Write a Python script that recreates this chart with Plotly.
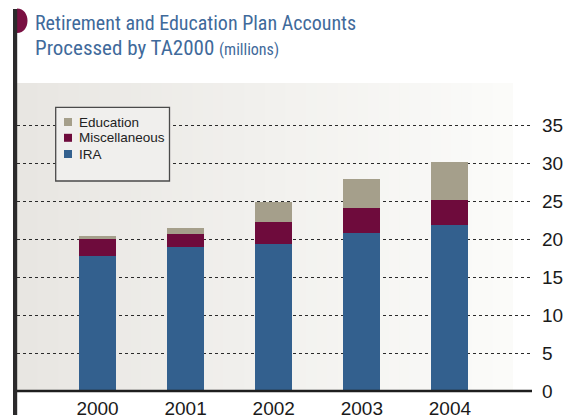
import plotly.graph_objects as go

years = ["2000", "2001", "2002", "2003", "2004"]
ira = [17.8, 18.9, 19.3, 20.8, 21.9]
misc = [2.2, 1.8, 3.0, 3.3, 3.2]
edu = [0.4, 0.7, 2.6, 3.8, 5.0]
series_names = ["IRA", "Miscellaneous", "Education"]
y_ticks = [0, 5, 10, 15, 20, 25, 30, 35]

COL_IRA = "#33608e"
COL_MISC = "#6e0b3c"
COL_EDU = "#a59f8b"
TITLE_COL = "#3f6a9b"

W, H = 570, 420
L, R, T, B = 17, 38, 83, 29
PW, PH = W - L - R, H - T - B
PX_PER_UNIT = 7.6


def px(p):
    return (p - L) / PW


def py(p):
    return (H - B - p) / PH


fig = go.Figure()
for name, vals, col in [("IRA", ira, COL_IRA), ("Miscellaneous", misc, COL_MISC), ("Education", edu, COL_EDU)]:
    fig.add_trace(go.Bar(x=list(range(len(years))), y=vals, name=name, marker_color=col,
                         marker_line_width=0, width=0.42, showlegend=False))

shapes = []
# gradient background
n = 48
x_end = 513
for i in range(n):
    t = i / (n - 1)
    r = round(232 + (251 - 232) * t)
    g = round(230 + (251 - 230) * t)
    b = round(226 + (249 - 226) * t)
    x0 = L + (x_end - L) * i / n
    x1 = L + (x_end - L) * (i + 1) / n + 0.6
    shapes.append(dict(type="rect", xref="paper", yref="paper", x0=px(x0), x1=px(min(x1, x_end)),
                       y0=0, y1=1, fillcolor=f"rgb({r},{g},{b})", line_width=0, layer="below"))

# bottom axis line
shapes.append(dict(type="line", xref="paper", yref="paper", x0=px(13), x1=px(532), y0=0, y1=0,
                   line=dict(color="#1e1e1e", width=2.6), layer="above"))
# title marker semicircle
x0m, x1m, y0m, y1m = 17, 27.5, 8.5, 33
cx = x0m + (x1m - x0m) * 4 / 3
path = (f"M {px(x0m)},{py(y0m)} C {px(cx)},{py(y0m)} {px(cx)},{py(y1m)} {px(x0m)},{py(y1m)} Z")
shapes.append(dict(type="path", xref="paper", yref="paper", path=path, fillcolor="#7a1042",
                   line_width=0, layer="above"))
# vertical dark bar
shapes.append(dict(type="rect", xref="paper", yref="paper", x0=px(13), x1=px(17.2), y0=py(415), y1=py(9),
                   fillcolor="#2b2a2b", line_width=0, layer="above"))

# legend box
shapes.append(dict(type="rect", xref="paper", yref="paper", x0=px(55.7), x1=px(169.5), y0=py(181), y1=py(107.3),
                   fillcolor="#f0efed", line=dict(color="#4a4a4a", width=1.3), layer="above"))
leg_items = [("Education", COL_EDU, 122), ("Miscellaneous", COL_MISC, 137.8), ("IRA", COL_IRA, 154)]
annotations = []
for name, col, yc in leg_items:
    shapes.append(dict(type="rect", xref="paper", yref="paper", x0=px(64), x1=px(72), y0=py(yc + 4), y1=py(yc - 4),
                       fillcolor=col, line_width=0, layer="above"))
    annotations.append(dict(text=name, xref="paper", yref="paper", x=px(76.5), y=py(yc), xanchor="left",
                            yanchor="middle", showarrow=False,
                            font=dict(family="Liberation Sans, Arial, sans-serif", size=13.5, color="#222")))

title_font = "Liberation Sans Narrow, Arial Narrow, Roboto Condensed, Liberation Sans, sans-serif"
annotations.append(dict(text="Retirement and Education Plan Accounts", xref="paper", yref="paper",
                        x=px(33), y=py(23), xanchor="left", yanchor="middle", showarrow=False,
                        font=dict(family=title_font, size=20, color=TITLE_COL)))
annotations.append(dict(text="Processed by TA2000 <span style='font-size:16px'>(millions)</span>",
                        xref="paper", yref="paper",
                        x=px(33), y=py(48.5), xanchor="left", yanchor="middle", showarrow=False,
                        font=dict(family=title_font, size=21, color=TITLE_COL)))

fig.update_layout(
    width=W, height=H,
    margin=dict(l=L, r=R, t=T, b=B, pad=0, autoexpand=False),
    paper_bgcolor="white", plot_bgcolor="rgba(0,0,0,0)",
    barmode="stack", bargap=0,
    shapes=shapes, annotations=annotations,
    xaxis=dict(range=[-0.914, -0.914 + PW / 88.1], tickvals=list(range(len(years))), ticktext=years,
               showgrid=False, zeroline=False, showline=False, ticks="", automargin=False,
               tickfont=dict(family="Liberation Sans, Arial, sans-serif", size=19, color="#1a1a1a"),
               ticklabelstandoff=4),
    yaxis=dict(range=[0, PH / PX_PER_UNIT], side="right", tickvals=y_ticks, showgrid=True,
               gridcolor="#2a2a2a", griddash="dot", gridwidth=1, zeroline=False, showline=False,
               ticks="", ticklabelstandoff=9, automargin=False,
               tickfont=dict(family="Liberation Sans, Arial, sans-serif", size=19, color="#1a1a1a")),
    showlegend=False,
)

fig.write_html("out.html")
